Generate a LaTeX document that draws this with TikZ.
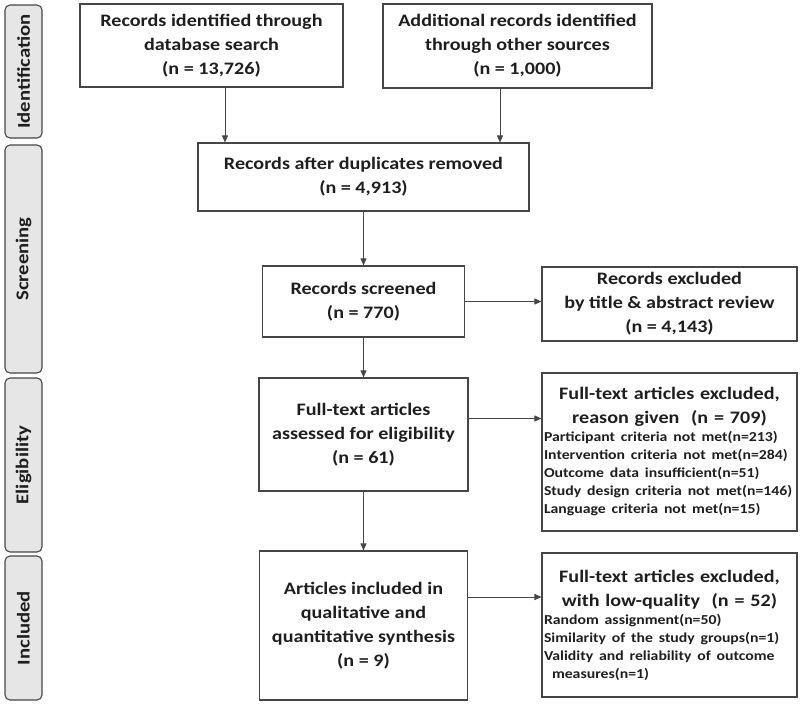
\documentclass[tikz,border=0pt]{standalone}
\usepackage{fontspec}
\setmainfont{Carlito}[FakeStretch=1.15]
\usetikzlibrary{arrows.meta}
\definecolor{edge}{HTML}{464646}
\definecolor{bar}{HTML}{E6E6E6}
\definecolor{ink}{HTML}{1E1E1E}
\newcommand\lstfont{\fontsize{13.7}{18}\selectfont}
\begin{document}
\begin{tikzpicture}[x=1pt, y=-1pt,
    every node/.style={text=ink, font=\bfseries\fontsize{17.5}{24}\selectfont},
    phase/.style={draw=edge, fill=bar, line width=1.1pt, rounded corners=5pt, rotate=90,
        minimum height=37pt, inner sep=0pt, font=\bfseries\fontsize{18}{22}\selectfont},
    box/.style={draw=edge, line width=1.1pt, align=center, inner sep=0pt},
    listbox/.style={draw=edge, line width=1.1pt, inner sep=0pt, text width=251pt},
    arr/.style={draw=edge, line width=0.9pt, -{Triangle[length=7pt,width=6pt]}}]
    \useasboundingbox (0,0) rectangle (803,704);
    % phases on the left
    \node[phase, minimum width=133pt] (pid) at (23.5,71.5) {Identification};
    \node[phase, minimum width=228pt] (pscr) at (23.5,259) {Screening};
    \node[phase, minimum width=174pt] (pel) at (23.5,465) {Eligibility};
    \node[phase, minimum width=144pt] (pinc) at (23.5,628) {Included};
    % main column
    \node[box, minimum width=263pt, minimum height=83pt] (db) at (211.5,45.5)
        {Records identified through\\ database search\\ (n = 13,726)};
    \node[box, minimum width=269pt, minimum height=84pt] (oth) at (517.5,46)
        {Additional records identified\\ through other sources\\ (n = 1,000)};
    \node[box, minimum width=331pt, minimum height=68pt] (dup) at (363.5,177)
        {Records after duplicates removed\\ (n = 4,913)};
    \node[box, minimum width=202pt, minimum height=71pt] (scr) at (363.5,301.5)
        {Records screened\\ (n = 770)};
    \node[box, minimum width=209pt, minimum height=113pt] (ft) at (363.5,434.5)
        {Full-text articles\\ assessed for eligibility\\ (n = 61)};
    \node[box, minimum width=208pt, minimum height=149pt] (inc) at (363.5,625.5)
        {Articles included in\\ qualitative and\\ quantitative synthesis\\ (n = 9)};
    % exclusions
    \node[box, minimum width=255pt, minimum height=74pt] (exc) at (669.5,304)
        {Records excluded\\ by title \& abstract review\\ (n = 4,143)};
    \node[listbox, minimum width=255pt, minimum height=158pt] (ftx) at (669.5,452)
        {\centering Full-text articles excluded,\\ reason given\ \ (n = 709)\par
         \lstfont\raggedright \mbox{Participant criteria not met(n=213)}\\
         \mbox{Intervention criteria not met(n=284)}\\
         \mbox{Outcome data insufficient(n=51)}\\
         \mbox{Study design criteria not met(n=146)}\\
         \mbox{Language criteria not met(n=15)}\par};
    \node[listbox, minimum width=255pt, minimum height=144pt] (incx) at (669.5,625)
        {\centering Full-text articles excluded,\\ with low-quality\ \ (n = 52)\par
         \lstfont\raggedright \mbox{Random assignment(n=50)}\\
         \mbox{Similarity of the study groups(n=1)}\\
         \mbox{Validity and reliability of outcome}\\
         \hspace*{8pt}measures(n=1)\par};
    % connectors
    \draw[arr] ([xshift=13.5pt]db.south) -- ([xshift=13.5pt]db.south |- dup.north);
    \draw[arr] ([xshift=-17.5pt]oth.south) -- ([xshift=-17.5pt]oth.south |- dup.north);
    \draw[arr] (dup) -- (scr);
    \draw[arr] (scr) -- (ft);
    \draw[arr] (ft) -- (inc);
    \draw[arr] (scr.east) -- (scr.east -| exc.west);
    \draw[arr] ([yshift=16pt]ft.east) -- ([yshift=16pt]ft.east -| ftx.west);
    \draw[arr] ([yshift=28.5pt]inc.east) -- ([yshift=28.5pt]inc.east -| incx.west);
\end{tikzpicture}
\end{document}
